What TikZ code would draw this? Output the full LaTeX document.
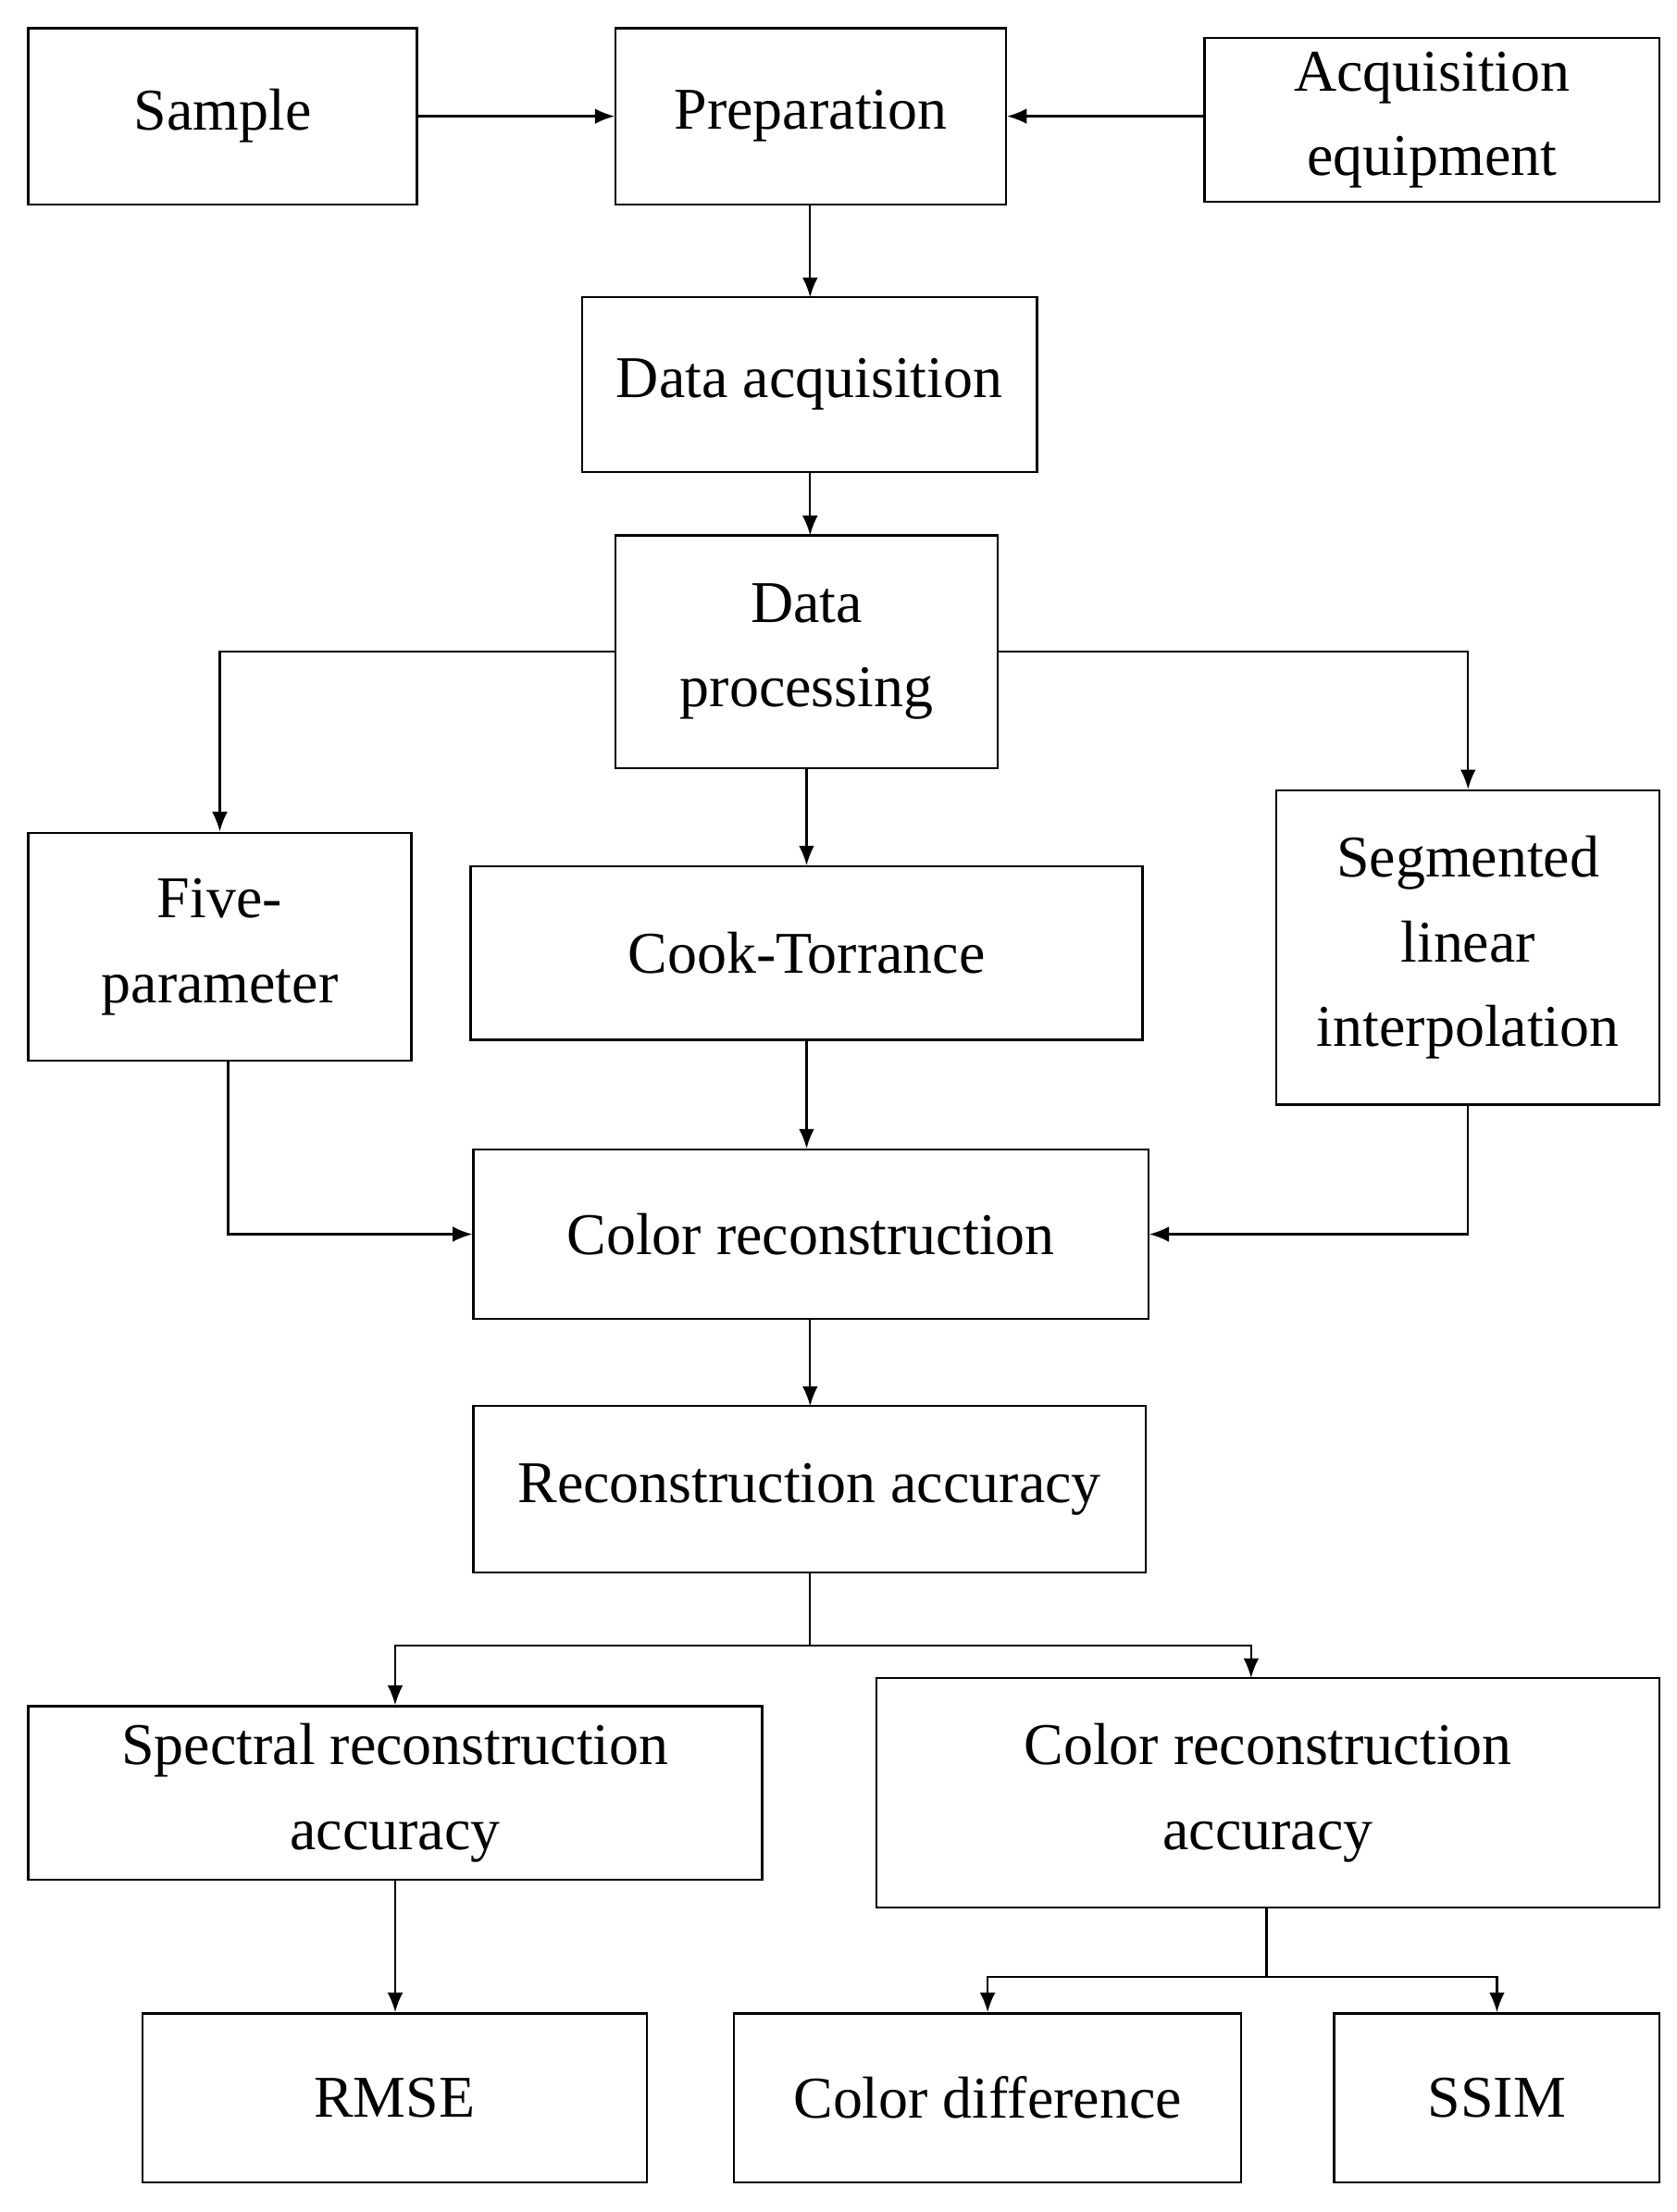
\documentclass[tikz,border=0pt]{standalone}
\usepackage{fontspec}
\setmainfont{Liberation Serif}
\usetikzlibrary{arrows.meta}
\begin{document}
\begin{tikzpicture}[x=1pt,y=-1pt,
  box/.style={draw,line width=1.5pt,align=center,inner sep=0pt,font=\fontsize{42}{60}\selectfont},
  arr/.style={line width=1.5pt,-{Latex[length=14pt,width=11pt]}},
  ln/.style={line width=1.5pt}]
\useasboundingbox (0,0) rectangle (1190,1570);
\newcommand{\bx}[6]{\node[box,minimum width=#4-#2,minimum height=#5-#3] (#1) at ({(#2+#4)/2},{(#3+#5)/2}) {#6};}
\bx{sa}{20}{20}{296}{145}{Sample}
\bx{pr}{437}{20}{714}{145}{Preparation}
\bx{aq}{855}{27}{1178}{143}{Acquisition\\equipment}
\bx{da}{413}{211}{736}{335}{Data acquisition}
\bx{dp}{437}{380}{708}{545}{Data\\processing}
\bx{fp}{20}{591}{292}{753}{Five-\\parameter}
\bx{ct}{334}{615}{811}{738}{Cook-Torrance}
\bx{sl}{906}{561}{1178}{784}{Segmented\\linear\\interpolation}
\bx{cr}{336}{816}{815}{936}{Color reconstruction}
\bx{ra}{336}{998}{813}{1116}{Reconstruction accuracy}
\bx{sp}{20}{1211}{541}{1334}{Spectral reconstruction\\accuracy}
\bx{ca}{622}{1191}{1178}{1354}{Color reconstruction\\accuracy}
\bx{rm}{101}{1429}{459}{1549}{RMSE}
\bx{cd}{521}{1429}{881}{1549}{Color difference}
\bx{ss}{947}{1429}{1178}{1549}{SSIM}
\draw[arr] (sa.east) -- (pr.west);
\draw[arr] (aq.west|-pr.east) -- (pr.east);
\draw[arr] (575,145) -- (575,211);
\draw[arr] (575,335) -- (575,380);
\draw[arr] (dp.west) -| (fp.north);
\draw[arr] (dp.east) -| (sl.north);
\draw[arr] (dp.south) -- (ct.north-|dp.south);
\draw[arr] (162,753) |- (cr.west);
\draw[arr] (ct.south) -- (cr.north-|ct.south);
\draw[arr] (sl.south) |- (cr.east);
\draw[arr] (575,936) -- (575,998);
\coordinate (j1) at (575,1168);
\coordinate (j2) at (899,1403);
\draw[ln] (ra.south-|j1) -- (j1);
\draw[arr] (j1) -| (sp.north);
\draw[arr] (j1) -| (888,1191);
\draw[arr] (sp.south) -- (rm.north-|sp.south);
\draw[ln] (ca.south-|j2) -- (j2);
\draw[arr] (j2) -| (cd.north);
\draw[arr] (j2) -| (ss.north);
\end{tikzpicture}
\end{document}
